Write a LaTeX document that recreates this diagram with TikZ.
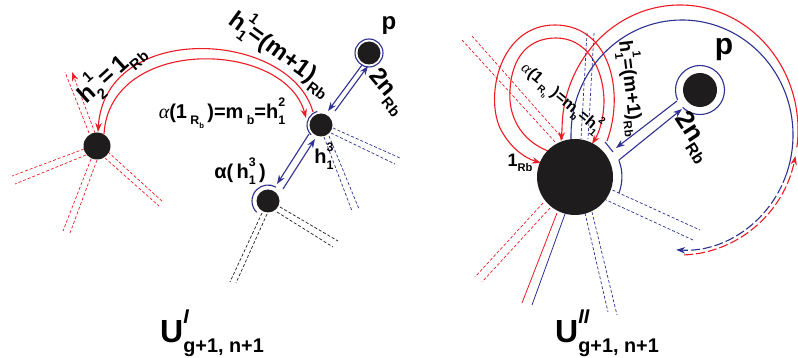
\documentclass[tikz,border=0pt]{standalone}
\usepackage{fontspec}
\setmainfont{Liberation Sans}
\newfontfamily\serifal{Liberation Serif}
\usepackage{graphicx}
\usetikzlibrary{arrows.meta}
\definecolor{rd}{RGB}{237,28,36}
\definecolor{bu}{RGB}{46,49,146}
\definecolor{dk}{RGB}{30,28,28}
\newcommand\SupSub[2]{\rlap{\raisebox{0.62em}{\scalebox{0.62}{#1}}}\raisebox{-0.3em}{\scalebox{0.62}{#2}}}
\newcommand\Sb[1]{\raisebox{-0.3em}{\scalebox{0.62}{#1}}}
\newcommand\lbl[1]{\fontsize{#1}{#1}\selectfont\bfseries}
\newcommand\alp{{\serifal\mdseries\itshape α}}
\begin{document}
\begin{tikzpicture}[x=1pt,y=-1pt,
  dot/.style={circle,fill=dk,inner sep=0},
  rline/.style={draw=rd,line width=1.1pt},
  bline/.style={draw=bu,line width=1.1pt},
  kline/.style={draw=dk,line width=0.7pt},
  sdash/.style={dash pattern=on 3pt off 2pt,line width=0.7pt},
  ldash/.style={dash pattern=on 9pt off 3pt},
  arw/.style={-{Stealth[length=9pt,width=6.5pt]}},
  lab/.style={inner sep=0,text=black}]
\fill[white] (0,0) rectangle (798,358);
\useasboundingbox (0,0) rectangle (798,358);

% ---------------- left graph ----------------
% red dashed lines at L
\draw[rline,sdash] (89,133) -- (65,72);
\draw[rline,sdash,arw] (95,133) -- (72,72);
\draw[rline,sdash] (84,149) -- (12,176);
\draw[rline,sdash] (86,155) -- (15,184);
\draw[rline,sdash] (91,159) -- (63,231);
\draw[rline,sdash] (97,160) -- (70,233);
\draw[rline,sdash] (108,152) -- (163,202);
\draw[rline,sdash] (105,158) -- (159,206);
% black dashed lines at B
\draw[kline,sdash] (262,213) -- (230,282);
\draw[kline,sdash] (267,214) -- (236,283);
\draw[kline,sdash] (280,207) -- (338,241);
\draw[kline,sdash] (277,212) -- (333,247);
% blue dashed lines at M
\draw[bline,sdash] (333,128) -- (400,158);
\draw[bline,sdash] (331,133) -- (395,164);
\draw[bline,sdash] (324,137) -- (352,211);
\draw[bline,sdash] (329,136) -- (359,209);
% red arcs
\draw[rline,arw] (313,112) .. controls (290,30) and (105,20) .. (98,132);
\draw[rline,arw] (104,134) .. controls (110,35) and (285,40) .. (306,118);
% blue arrows
\draw[bline,arw] (362,65) -- (328,111);
\draw[bline,arw] (335,111) -- (368,66);
\draw[bline,arw] (309,134) -- (277,184);
\draw[bline,arw] (283,189) -- (315,139);
\draw[bline] (321,125) ++(255:14) arc[start angle=255, end angle=135, radius=14];
\draw[bline] (268,201) ++(135:16) arc[start angle=135, end angle=300, radius=16];
\draw[bline] (369,53) circle[radius=14];
% nodes
\node[dot,minimum size=27pt] (L) at (97,146) {};
\node[dot,minimum size=23pt] (M) at (321,125) {};
\node[dot,minimum size=23pt] (P) at (369,53) {};
\node[dot,minimum size=23pt] (B) at (268,201) {};
% labels
\node[lab,font=\lbl{24},rotate=42] (t1) at (110,72) {h\SupSub{1}{2}\,=\,1\Sb{Rb}};
\node[lab,font=\lbl{24},rotate=-36] (t2) at (282,52) {h\SupSub{1}{1}=(m+1)\Sb{Rb}};
\node[lab,font=\lbl{24}] (t3) at (389,26) {p};
\node[lab,font=\lbl{24},rotate=-50] (t4) at (387,92) {2n\Sb{Rb}};
\node[lab,font=\lbl{20}] (t5) at (222,113) {\alp(1\,\Sb{R\Sb{b}}\,)=m\,\Sb{b}=h\SupSub{2}{1}};
\node[lab,font=\lbl{20}] (t6) at (324,156) {h\SupSub{3}{1}};
\node[lab,font=\lbl{20}] (t7) at (240,171) {α(\,h\SupSub{3}{1}\,)};
\node[lab,font=\lbl{32}] (t8) at (212,333) {U\SupSub{\itshape I}{g+1, n+1}};

% ---------------- right graph ----------------
% red dashed top-left
\draw[rline,sdash] (462,40) -- (556,143);
\draw[rline,sdash] (472,36) -- (563,139);
% red dashed down-left
\draw[rline,sdash] (543,203) -- (475,277);
\draw[rline,sdash] (550,208) -- (482,282);
% red / blue solid down-left
\draw[rline,line width=0.8pt] (557,213) -- (522,303);
\draw[bline,line width=0.8pt] (565,214) -- (532,305);
% blue dashed down
\draw[bline,sdash] (585,213) -- (608,312);
\draw[bline,sdash] (592,212) -- (617,315);
% blue dashed right-down
\draw[bline,sdash] (608,188) -- (700,230);
\draw[bline,sdash] (604,199) -- (693,240);
% small red loops
\draw[rline,arw] (607,141) .. controls (625,92) and (610,25) .. (555,25)
  .. controls (500,25) and (485,95) .. (500,128)
  .. controls (510,148) and (525,158) .. (541,163);
\draw[rline,arw] (548,151) .. controls (520,140) and (508,115) .. (510,90)
  .. controls (512,55) and (530,38) .. (556,38)
  .. controls (585,38) and (603,65) .. (604,100)
  .. controls (604,118) and (599,133) .. (592,144);
% big red loop
\draw[rline,ldash,arw] (680,130) ++(88:118 and 125) arc[start angle=88, end angle=12, x radius=118, y radius=125];
\draw[rline,arw] (680,130) ++(8:118 and 125) arc[start angle=8, end angle=-180, x radius=118, y radius=125] -- (561,141);
% big blue loop
\draw[bline] (571,140) -- (571,135) arc[start angle=-180, end angle=20, x radius=111, y radius=115];
\draw[bline,ldash,arw] (682,135) ++(20:111 and 115) arc[start angle=20, end angle=93, x radius=111, y radius=115];
% blue dashed top
\draw[bline,sdash] (587,33) -- (581,139);
\draw[bline,sdash] (594,33) -- (588,139);
% blue keyhole
\draw[bline] (700,90) ++(156:24.5) arc[start angle=156, end angle=495, radius=24.5];
\draw[bline,arw] (677,101) -- (616,148);
\draw[bline,arw] (619,160) -- (682,109);
\draw[bline] (575,177) ++(-21:47) arc[start angle=-21, end angle=21, radius=46];
\draw[bline] (605,142) -- (613,152);
% nodes
\node[dot,minimum size=76pt] (R) at (575,177) {};
\node[dot,minimum size=34pt] (Q) at (700,90) {};
% labels
\node[lab,font=\lbl{30}] (s1) at (724,50) {p};
\node[lab,font=\lbl{19},rotate=-83] (s2) at (632,88) {h\SupSub{1}{1}=(m+1)\Sb{Rb}};
\node[lab,font=\lbl{16},rotate=-40] (s3) at (561,98) {\alp(1\,\Sb{R\Sb{b}}\,)=m\Sb{b}=h\SupSub{2}{1}};
\node[lab,font=\lbl{18}] (s4) at (520,163) {1\Sb{Rb}};
\node[lab,font=\lbl{26},rotate=-57] (s5) at (693,137) {2n\Sb{Rb}};
\node[lab,font=\lbl{32}] (s6) at (607,333) {U\SupSub{\itshape II}{g+1, n+1}};
\end{tikzpicture}
\end{document}
